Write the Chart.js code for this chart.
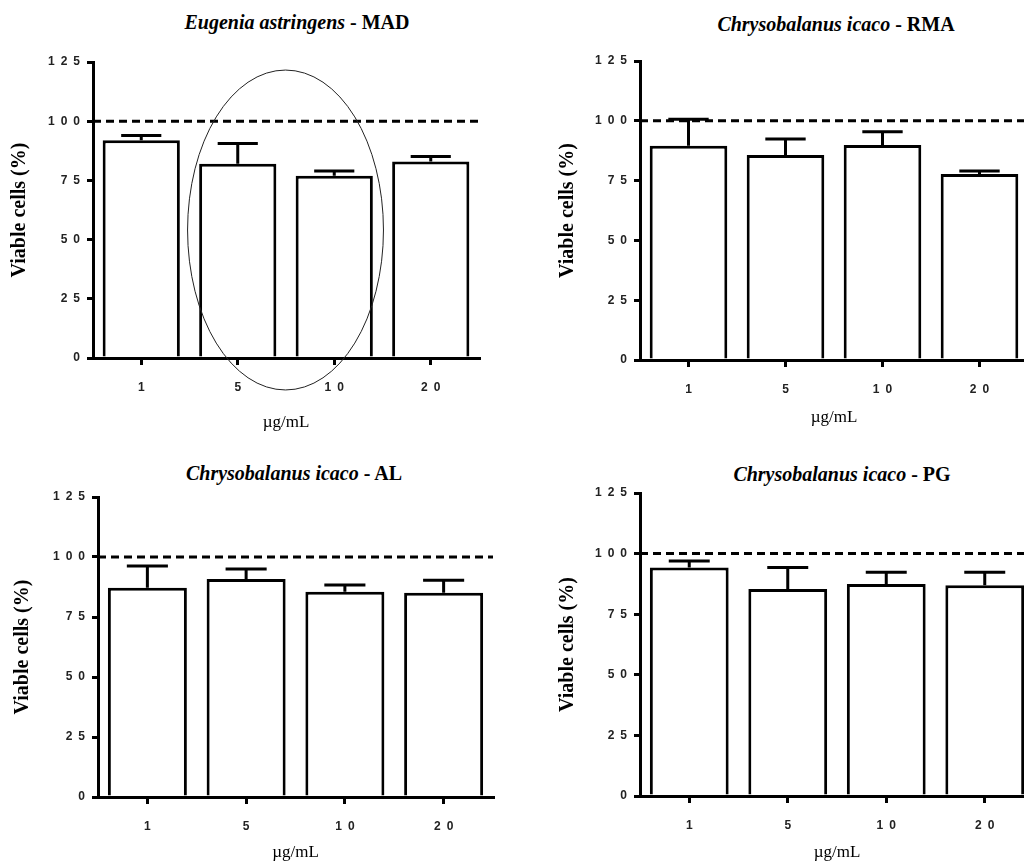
<!DOCTYPE html>
<html>
<head>
<meta charset="utf-8">
<script src="https://cdn.jsdelivr.net/npm/chart.js@4.4.1/dist/chart.umd.min.js"></script>
<style>
    html, body { margin: 0; padding: 0; background: #fff; overflow: hidden; }
    body { width: 1024px; height: 863px; position: relative; }
    .panel { position: absolute; }
    .panel-title {
        position: absolute;
        transform: translateX(-50%);
        font-family: "Liberation Serif", "Times New Roman", serif;
        font-weight: bold;
        font-size: 20px;
        line-height: 22px;
        white-space: nowrap;
        color: #000;
    }
</style>
</head>
<body>

<div class="panel-title" style="left:297px; top:11px;"><i>Eugenia astringens</i> - MAD</div>
<div class="panel-title" style="left:836px; top:13px;"><i>Chrysobalanus icaco</i> - RMA</div>
<div class="panel-title" style="left:294px; top:462px;"><i>Chrysobalanus icaco</i> - AL</div>
<div class="panel-title" style="left:842px; top:463px;"><i>Chrysobalanus icaco</i> - PG</div>

<div class="panel" style="left:0px; top:0px; width:490px; height:440px;"><canvas id="chartMAD"></canvas></div>
<div class="panel" style="left:540px; top:0px; width:500px; height:440px;"><canvas id="chartRMA"></canvas></div>
<div class="panel" style="left:0px; top:440px; width:500px; height:423px;"><canvas id="chartAL"></canvas></div>
<div class="panel" style="left:540px; top:440px; width:500px; height:423px;"><canvas id="chartPG"></canvas></div>

<script>
// Data
const concentrations = ['1', '5', '10', '20'];

const madMeans = [92, 82, 77, 83];
const madErrors = [2, 8.6, 2, 2.1];

const rmaMeans = [89.6, 85.7, 89.9, 77.8];
const rmaErrors = [11.1, 6.7, 5.5, 1.2];

const alMeans = [87.2, 90.8, 85.5, 85.1];
const alErrors = [9, 4.2, 2.8, 5.2];

const pgMeans = [94.3, 85.4, 87.5, 86.9];
const pgErrors = [2.6, 8.9, 4.8, 5.4];

const yMin = 0;
const yMax = 125;
const yStep = 25;
const controlLevel = 100;

// circled region in the MAD panel (category index / value units)
const madHighlight = { xFrom: 0.48, xTo: 2.51, yFrom: -13.5, yTo: 121.6 };

// spaced out digits like the original tick labels
function spacedDigits(v) {
    return String(v).split('').join('\u2002');
}

// Upper error bars
const errorBarsPlugin = {
    id: 'errorBars',
    afterDatasetsDraw(chart) {
        const ctx = chart.ctx;
        const yScale = chart.scales.y;
        const ds = chart.data.datasets[0];
        const meta = chart.getDatasetMeta(0);
        ctx.save();
        ctx.strokeStyle = '#000';
        ctx.lineWidth = 3;
        meta.data.forEach((bar, i) => {
            const top = yScale.getPixelForValue(ds.data[i] + ds.errors[i]);
            const cap = bar.width * 0.26;
            ctx.beginPath();
            ctx.moveTo(bar.x, bar.y);
            ctx.lineTo(bar.x, top);
            ctx.moveTo(bar.x - cap, top);
            ctx.lineTo(bar.x + cap, top);
            ctx.stroke();
        });
        ctx.restore();
    }
};

// Dashed 100% control line
const controlLinePlugin = {
    id: 'controlLine',
    beforeDatasetsDraw(chart) {
        const ctx = chart.ctx;
        const area = chart.chartArea;
        const y = chart.scales.y.getPixelForValue(controlLevel);
        ctx.save();
        ctx.strokeStyle = '#000';
        ctx.lineWidth = 3;
        ctx.setLineDash([8, 5]);
        ctx.beginPath();
        ctx.moveTo(area.left, y);
        ctx.lineTo(area.right, y);
        ctx.stroke();
        ctx.restore();
    }
};

// Hand-drawn style ellipse
const ellipsePlugin = {
    id: 'highlightEllipse',
    afterDraw(chart, args, opts) {
        if (!opts || !opts.region) return;
        const r = opts.region;
        const xs = chart.scales.x, ys = chart.scales.y;
        const x1 = xs.getPixelForValue(r.xFrom), x2 = xs.getPixelForValue(r.xTo);
        const y1 = ys.getPixelForValue(r.yTo), y2 = ys.getPixelForValue(r.yFrom);
        const ctx = chart.ctx;
        ctx.save();
        ctx.strokeStyle = '#222';
        ctx.lineWidth = 1;
        ctx.beginPath();
        ctx.ellipse((x1 + x2) / 2, (y1 + y2) / 2, (x2 - x1) / 2, (y2 - y1) / 2, 0, 0, Math.PI * 2);
        ctx.stroke();
        ctx.restore();
    }
};

const tickFont = { family: '"Liberation Sans", Arial, sans-serif', size: 12, weight: 'bold' };
const titleFont = { family: '"Liberation Serif", "Times New Roman", serif', size: 20, weight: 'bold' };
const unitFont = { family: '"Liberation Serif", "Times New Roman", serif', size: 17 };

function makePanel(id, means, errors, layout, region) {
    const ctx = document.getElementById(id).getContext('2d');
    return new Chart(ctx, {
        type: 'bar',
        data: {
            labels: concentrations,
            datasets: [{
                data: means,
                errors: errors,
                backgroundColor: '#fff',
                borderColor: '#000',
                borderWidth: 3,
                borderSkipped: 'start',
                barPercentage: 0.8,
                categoryPercentage: 1.0
            }]
        },
        options: {
            responsive: true,
            maintainAspectRatio: false,
            animation: false,
            layout: {
                padding: { top: layout.top, right: layout.right, left: 0, bottom: 0 }
            },
            plugins: {
                legend: { display: false },
                tooltip: { enabled: false },
                highlightEllipse: { region: region }
            },
            scales: {
                x: {
                    grid: {
                        offset: false,
                        drawOnChartArea: false,
                        tickLength: 7,
                        color: '#000',
                        lineWidth: 3
                    },
                    border: { color: '#000', width: 3 },
                    ticks: {
                        color: '#222',
                        font: tickFont,
                        padding: 15,
                        callback: function(value) {
                            return spacedDigits(this.getLabelForValue(value));
                        }
                    },
                    title: {
                        display: true,
                        text: 'µg/mL',
                        color: '#000',
                        font: unitFont,
                        padding: { top: 0, bottom: layout.unitPad }
                    },
                    afterFit: s => { s.height = layout.xHeight; }
                },
                y: {
                    min: yMin,
                    max: yMax,
                    grid: {
                        drawOnChartArea: false,
                        tickLength: 6,
                        color: '#000',
                        lineWidth: 3
                    },
                    border: { color: '#000', width: 3 },
                    ticks: {
                        stepSize: yStep,
                        color: '#222',
                        font: tickFont,
                        padding: 7,
                        callback: v => spacedDigits(v)
                    },
                    title: {
                        display: true,
                        text: 'Viable cells (%)',
                        color: '#000',
                        font: titleFont,
                        padding: { top: layout.yTitlePad, bottom: 0 }
                    },
                    afterFit: s => { s.width = layout.yWidth; }
                }
            }
        },
        plugins: [controlLinePlugin, errorBarsPlugin, ellipsePlugin]
    });
}

makePanel('chartMAD', madMeans, madErrors,
    { top: 62, right: 11, yWidth: 93, xHeight: 82, yTitlePad: 8, unitPad: 7 }, madHighlight);
makePanel('chartRMA', rmaMeans, rmaErrors,
    { top: 61, right: 12, yWidth: 100, xHeight: 80, yTitlePad: 16, unitPad: 12 }, null);
makePanel('chartAL', alMeans, alErrors,
    { top: 57, right: 7, yWidth: 98, xHeight: 66, yTitlePad: 11, unitPad: 0 }, null);
makePanel('chartPG', pgMeans, pgErrors,
    { top: 53, right: 6, yWidth: 100, xHeight: 67, yTitlePad: 16, unitPad: 0 }, null);
</script>
</body>
</html>
